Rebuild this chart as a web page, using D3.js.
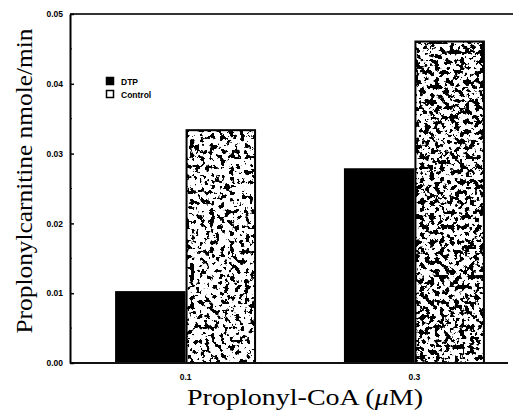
<!DOCTYPE html>
<html><head><meta charset="utf-8">
<script src="https://cdn.jsdelivr.net/npm/d3@7"></script>
<style>body{margin:0;background:#fff}svg{display:block}</style>
</head><body><svg id="c" width="513" height="411"></svg>
<script>
const categories = ["0.1", "0.3"];
const seriesNames = ["DTP", "Control"];
const dtpValues = [0.0103, 0.0279];
const controlValues = [0.0335, 0.0462];
const yTicks = [0, 0.01, 0.02, 0.03, 0.04, 0.05];
const yMinorTicks = [0.005, 0.015, 0.025, 0.035, 0.045];
const yTitle = "Proplonylcarnitine  nmole/min";
const xTitle = "Proplonyl-CoA (";
const xUnit = "\u03BCM";

const svg = d3.select("#c");
const L = 70, T = 14, B = 363;
const y = d3.scaleLinear().domain([0, 0.05]).range([B, T]);
const x0 = d3.scaleBand().domain(categories).range([70, 530]).paddingInner(0.384).paddingOuter(0.197);
const x1 = d3.scaleBand().domain(seriesNames).range([0, x0.bandwidth()]).padding(0);

const defs = svg.append("defs");
function speck(id, seed, k, off) {
  const f = defs.append("filter").attr("id", id).attr("x", 0).attr("y", 0).attr("width", 1).attr("height", 1)
    .attr("filterUnits", "objectBoundingBox");
  f.append("feTurbulence").attr("type", "fractalNoise").attr("baseFrequency", 0.2).attr("numOctaves", 4).attr("seed", seed).attr("result", "n");
  f.append("feColorMatrix").attr("in", "n").attr("type", "matrix")
    .attr("values", `0 0 0 0 0  0 0 0 0 0  0 0 0 0 0  ${-k} 0 0 0 ${off}`).attr("result", "m");
  f.append("feComposite").attr("in", "m").attr("in2", "SourceGraphic").attr("operator", "in");
}
speck("speck0", 3, 30, 13.3);
speck("speck1", 7, 30, 14.7);

const data = categories.map((c, i) => ({c, vals: [dtpValues[i], controlValues[i]]}));
const g = svg.append("g");
data.forEach((d, i) => {
  g.append("rect").attr("x", x0(d.c) + x1("DTP")).attr("y", y(d.vals[0]))
    .attr("width", x1.bandwidth()).attr("height", B - y(d.vals[0])).attr("fill", "#000");
  const cx = x0(d.c) + x1("Control"), cy = y(d.vals[1]);
  const w = x1.bandwidth() - 2, h = B - cy - 1;
  g.append("rect").attr("x", cx + 1).attr("y", cy + 1).attr("width", w).attr("height", h).attr("fill", "#fff");
  g.append("rect").attr("x", cx + 1).attr("y", cy + 1).attr("width", w).attr("height", h)
    .attr("fill", "#000").attr("filter", `url(#speck${i})`);
  g.append("rect").attr("x", cx + 1).attr("y", cy + 1).attr("width", w).attr("height", h)
    .attr("fill", "none").attr("stroke", "#000").attr("stroke-width", 2);
});

svg.append("line").attr("x1", L).attr("x2", 513).attr("y1", T).attr("y2", T).attr("stroke", "#333").attr("stroke-width", 2);
svg.append("line").attr("x1", L).attr("x2", 508).attr("y1", B).attr("y2", B).attr("stroke", "#111").attr("stroke-width", 2);

const ya = svg.append("g").attr("transform", `translate(${L},0)`)
  .call(d3.axisLeft(y).tickValues(yTicks).tickFormat(d3.format(".2f")).tickSizeInner(-4).tickSizeOuter(0).tickPadding(7));
ya.select(".domain").attr("stroke", "#000").attr("stroke-width", 2);
ya.selectAll(".tick line").attr("stroke", "#000").attr("stroke-width", 1.5);
ya.selectAll("text").attr("font-family", "Liberation Sans, Arial, sans-serif").attr("font-size", 8.5).attr("font-weight", "bold").attr("fill", "#000");
svg.append("g").selectAll("line").data(yMinorTicks).join("line")
  .attr("x1", L).attr("x2", L + 2).attr("y1", d => y(d)).attr("y2", d => y(d)).attr("stroke", "#000").attr("stroke-width", 1);

svg.append("g").selectAll("text").data(categories).join("text")
  .attr("x", d => x0(d) + x0.bandwidth() / 2).attr("y", 380).attr("text-anchor", "middle")
  .attr("font-family", "Liberation Sans, Arial, sans-serif").attr("font-size", 8.5).attr("font-weight", "bold").text(d => d);

svg.append("text").attr("transform", "translate(32,181) rotate(-90)").attr("text-anchor", "middle")
  .attr("font-family", "Liberation Serif, Times New Roman, serif").attr("font-size", 23)
  .attr("textLength", 305).attr("lengthAdjust", "spacingAndGlyphs").text(yTitle);
const xt = svg.append("text").attr("x", 305).attr("y", 405).attr("text-anchor", "middle")
  .attr("font-family", "Liberation Serif, Times New Roman, serif").attr("font-size", 23)
  .attr("textLength", 236).attr("lengthAdjust", "spacingAndGlyphs");
xt.append("tspan").text(xTitle);
xt.append("tspan").attr("font-style", "italic").text(xUnit.slice(0, 1));
xt.append("tspan").text(xUnit.slice(1) + ")");

const lg = svg.append("g");
seriesNames.forEach((s, i) => {
  lg.append("rect").attr("x", 106.5).attr("y", 77.5 + i * 13).attr("width", 7).attr("height", 7)
    .attr("fill", i === 0 ? "#000" : "#fff").attr("stroke", "#000").attr("stroke-width", 1.5);
  lg.append("text").attr("x", 121).attr("y", 85 + i * 13)
    .attr("font-family", "Liberation Sans, Arial, sans-serif").attr("font-size", 8.5).attr("font-weight", "bold").text(s);
});
</script></body></html>
